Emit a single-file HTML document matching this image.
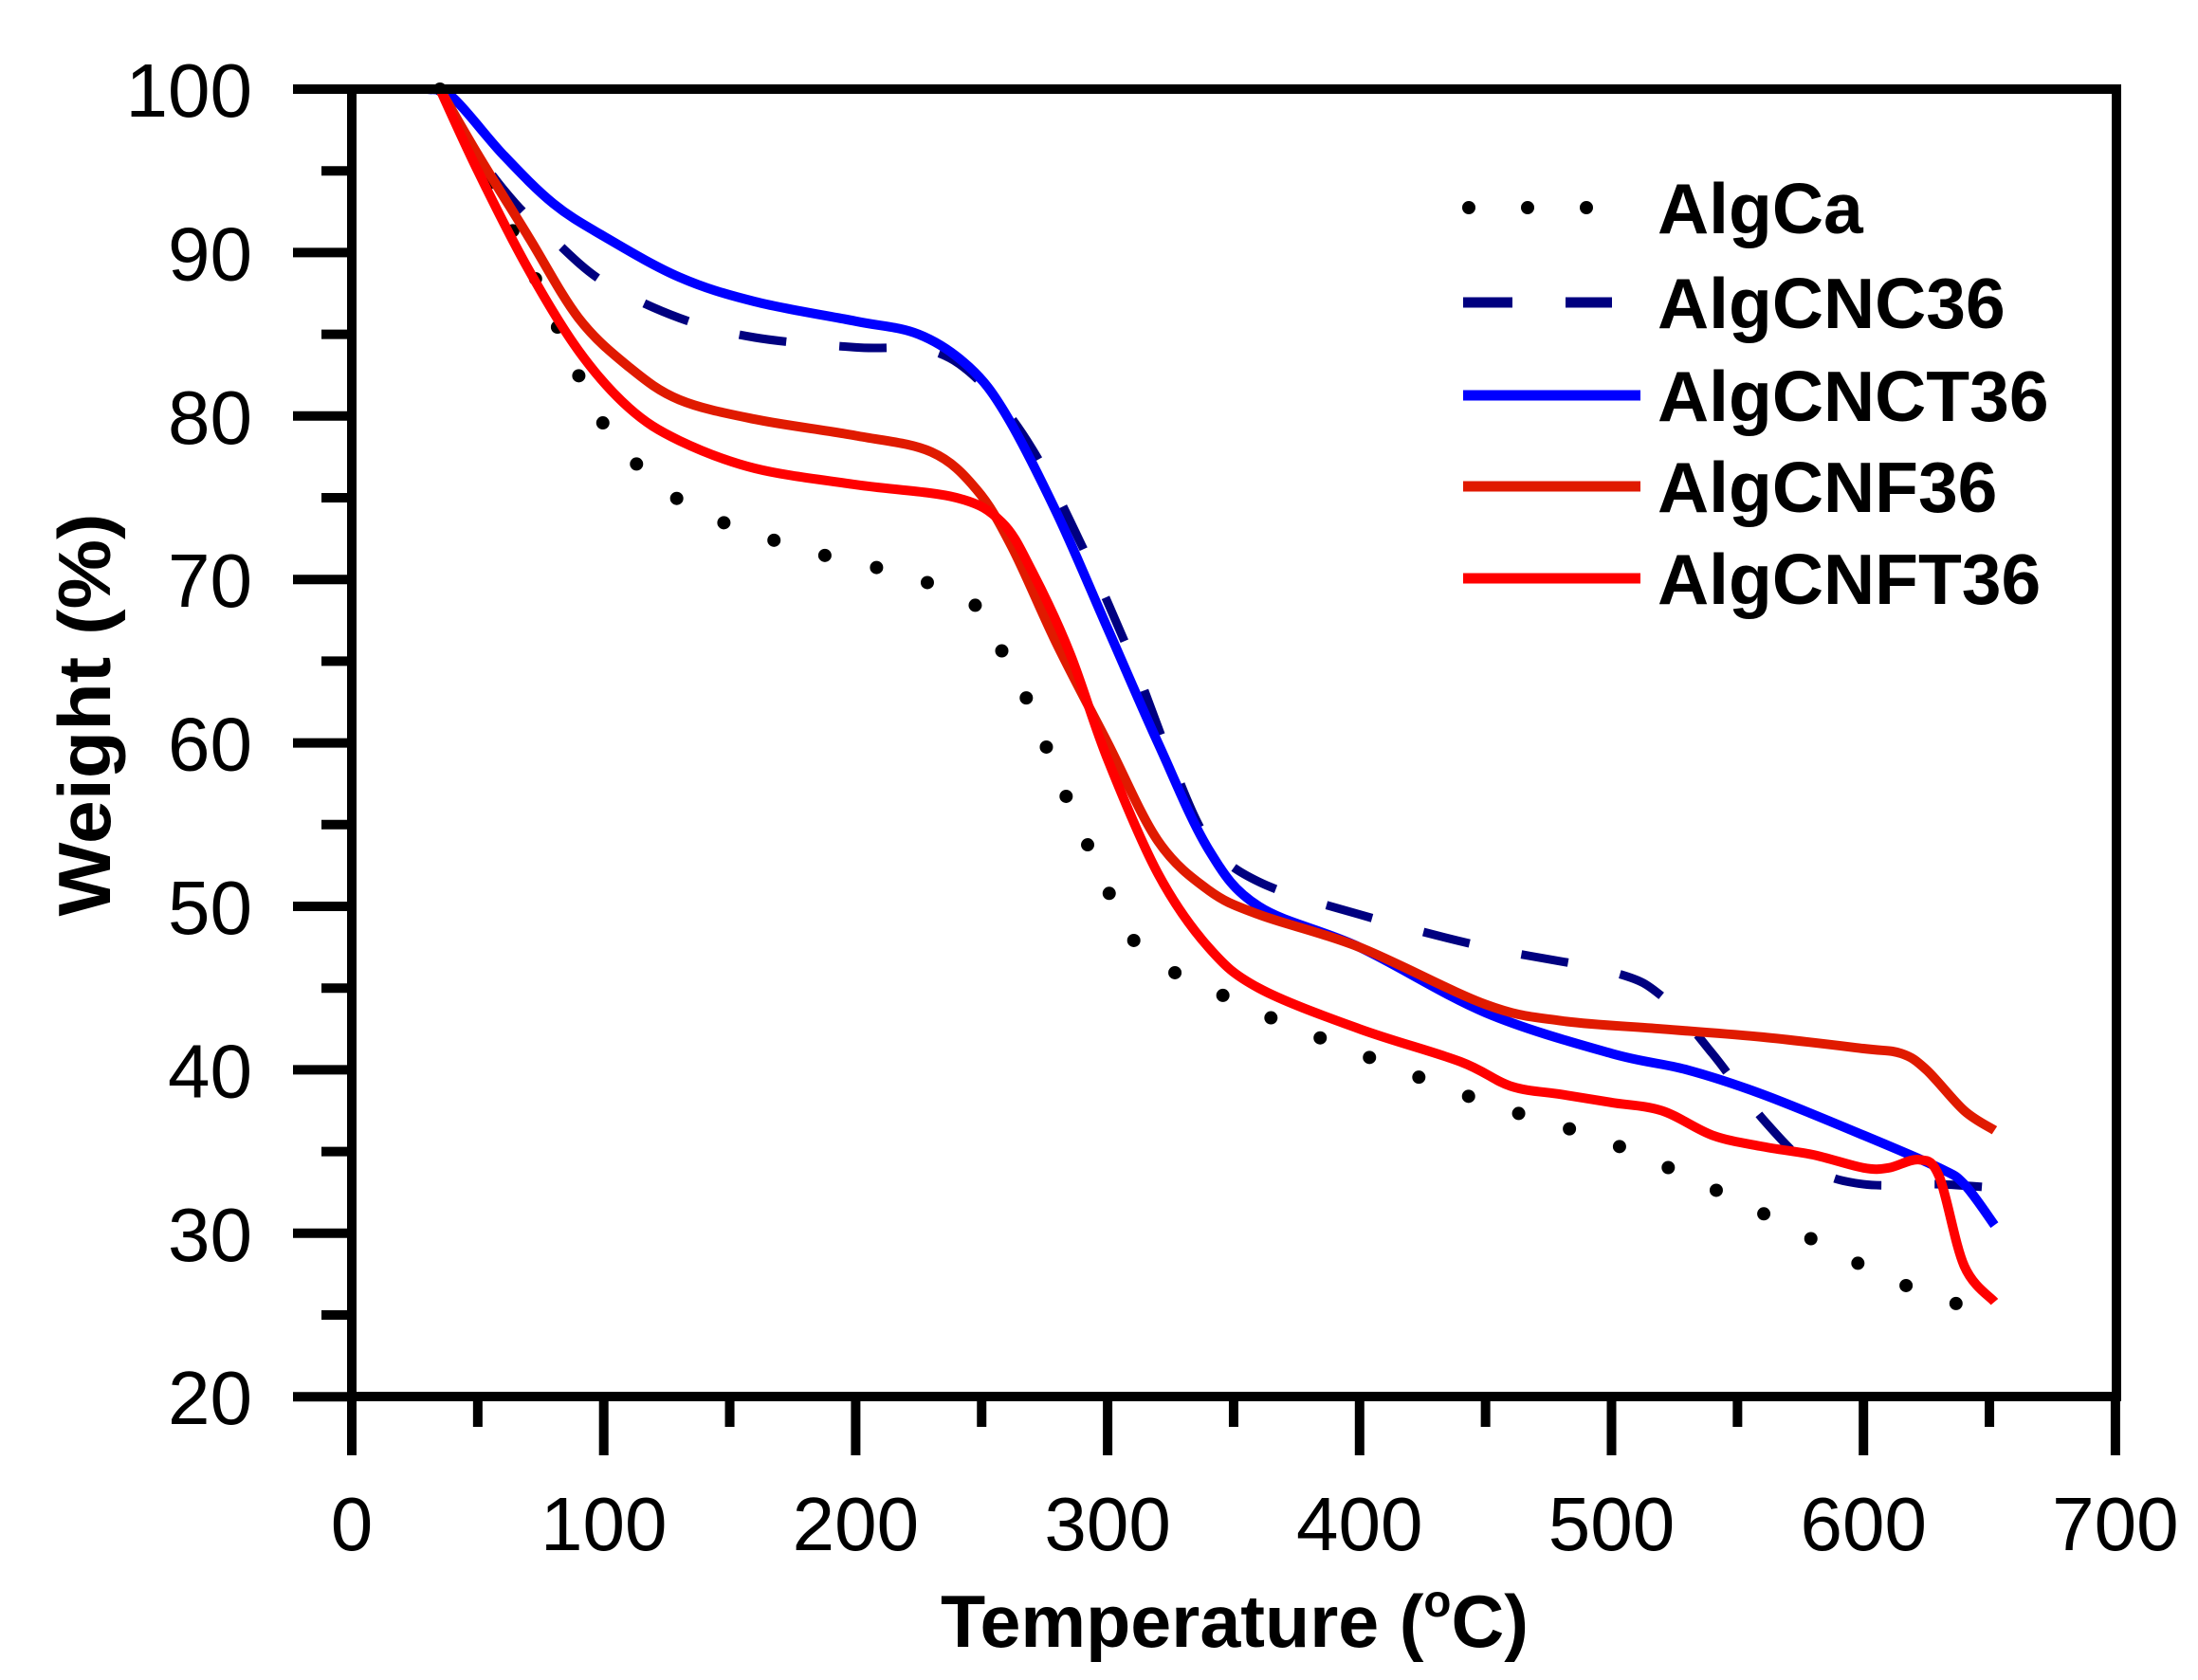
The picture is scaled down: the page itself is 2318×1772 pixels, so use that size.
<!DOCTYPE html>
<html><head><meta charset="utf-8"><style>
html,body{margin:0;padding:0;background:#fff;}
svg{display:block;}
text{font-family:"Liberation Sans",Arial,sans-serif;fill:#000;}
</style></head><body>
<svg id="s" width="2318" height="1772" viewBox="0 0 2318 1772" xmlns="http://www.w3.org/2000/svg">
<rect width="2318" height="1772" fill="#fff"/>
<g id="curves" fill="none" stroke-linejoin="round"></g>
<rect x="371" y="94" width="1861" height="1379" fill="none" stroke="#000" stroke-width="10"/>
<g id="ticks" stroke="#000" stroke-width="10"></g>
<g id="labels" font-size="80"></g>
<text x="0" y="0" font-size="78" font-weight="bold" text-anchor="middle" transform="translate(116,754) rotate(-90)" textLength="425" lengthAdjust="spacingAndGlyphs">Weight (%)</text>
<text x="992" y="1737" font-size="78" font-weight="bold" textLength="620" lengthAdjust="spacingAndGlyphs">Temperature (<tspan font-size="48" dy="-32">o</tspan><tspan dy="32">C)</tspan></text>
<g font-size="75" font-weight="bold">
<line x1="1545" y1="219" x2="1725" y2="219" stroke="#000" stroke-width="14" stroke-linecap="round" stroke-dasharray="0 62" transform="translate(4,0)"/>
<text x="1748" y="246">AlgCa</text>
<line x1="1543" y1="319" x2="1700" y2="319" stroke="#000080" stroke-width="11" stroke-dasharray="52 56"/>
<text x="1748" y="346">AlgCNC36</text>
<line x1="1543" y1="417" x2="1730" y2="417" stroke="#0000ff" stroke-width="11"/>
<text x="1748" y="444">AlgCNCT36</text>
<line x1="1543" y1="513" x2="1730" y2="513" stroke="#e01a00" stroke-width="11"/>
<text x="1748" y="540">AlgCNF36</text>
<line x1="1543" y1="610" x2="1730" y2="610" stroke="#ff0000" stroke-width="11"/>
<text x="1748" y="637">AlgCNFT36</text>
</g>
</svg>
<script>
var X=function(t){return 371+2.657*t;},Y=function(w){return 94+(100-w)*17.24;};
var NS="http://www.w3.org/2000/svg";
function path(pts){var p=pts.map(function(a){return [X(a[0]),Y(a[1])];});
var d="M"+p[0][0].toFixed(1)+","+p[0][1].toFixed(1);
for(var i=0;i<p.length-1;i++){var p0=p[i-1]||p[i],p1=p[i],p2=p[i+1],p3=p[i+2]||p2;
var c1=[p1[0]+(p2[0]-p0[0])/6,p1[1]+(p2[1]-p0[1])/6],c2=[p2[0]-(p3[0]-p1[0])/6,p2[1]-(p3[1]-p1[1])/6];
d+="C"+c1[0].toFixed(1)+","+c1[1].toFixed(1)+" "+c2[0].toFixed(1)+","+c2[1].toFixed(1)+" "+p2[0].toFixed(1)+","+p2[1].toFixed(1);}
return d;}
var series=[
{c:"#000",w:14,da:"0 56",cap:"round",d:[[35,100],[50,95.5],[65,91],[80,86],[90,82.5],[100,79.5],[120,76],[140,74],[160,72.8],[180,71.8],[200,71],[220,70.3],[240,69],[250,68],[260,65],[270,62],[280,58],[290,54.5],[300,51],[310,48],[320,46.5],[340,45],[360,43.5],[400,41],[450,38],[500,35.5],[550,32],[600,28],[630,26],[645,25.5]]},
{c:"#000080",w:9,da:"50 56",cap:"butt",d:[[35,100],[50,96],[65,93],[80,90.8],[100,88.2],[130,86],[160,84.8],[200,84.2],[230,84],[250,82],[270,78],[290,72],[310,65],[325,59],[340,54],[360,51.5],[400,49.5],[450,47.5],[500,46],[520,44.5],[540,41],[560,37],[580,34],[600,33],[630,33],[650,32.8]]},
{c:"#0000ff",w:10,d:[[30,100],[40,99.5],[60,96],[80,93],[100,91],[130,88.5],[160,87],[200,85.8],[225,85],[245,83],[260,80],[280,74],[300,67],[320,60],[340,53.5],[360,50],[400,47.5],[450,43.5],[500,41],[530,40],[560,38.5],[600,36],[630,34],[640,33],[652,30.5]]},
{c:"#e01a00",w:10,d:[[35,100],[50,96],[70,91],[90,86],[110,83],[130,81],[160,79.8],[200,78.8],[230,77.8],[248,75.5],[262,72],[280,66],[300,60],[320,54],[340,51],[360,49.5],[400,47.5],[450,44],[480,43],[520,42.5],[560,42],[600,41.3],[615,41],[625,40],[640,37.5],[652,36.3]]},
{c:"#ff0000",w:10,d:[[35,100],[50,95],[70,89],[90,84],[110,80.5],[130,78.5],[160,76.8],[200,75.8],[240,75],[258,73.5],[270,70.5],[285,65.5],[300,59],[320,52],[340,47.5],[360,45],[400,42.5],[440,40.5],[460,39],[480,38.5],[500,38],[520,37.5],[540,36],[560,35.3],[580,34.8],[600,34],[610,34],[622,34.5],[630,33.5],[640,28],[652,25.8]]}];
var g=document.getElementById("curves");
series.forEach(function(s){var e=document.createElementNS(NS,"path");e.setAttribute("d",path(s.d));e.setAttribute("stroke",s.c);e.setAttribute("stroke-width",s.w);
if(s.da){e.setAttribute("stroke-dasharray",s.da);e.setAttribute("stroke-linecap",s.cap);}g.appendChild(e);});
var tg=document.getElementById("ticks"),lg=document.getElementById("labels");
function ln(x1,y1,x2,y2){var e=document.createElementNS(NS,"line");e.setAttribute("x1",x1);e.setAttribute("y1",y1);e.setAttribute("x2",x2);e.setAttribute("y2",y2);tg.appendChild(e);}
function tx(x,y,s,a){var e=document.createElementNS(NS,"text");e.setAttribute("x",x);e.setAttribute("y",y);e.setAttribute("text-anchor",a);e.textContent=s;lg.appendChild(e);}
for(var w=20;w<=100;w+=5){var y=Y(w),maj=(w%10==0);ln(maj?309:339,y,371,y);if(maj)tx(266,y+29,String(w),"end");}
for(var t=0;t<=700;t+=50){var x=X(t),maj=(t%100==0);ln(x,1473,x,maj?1535:1505);if(maj)tx(x,1635,String(t),"middle");}
</script>
</body></html>
